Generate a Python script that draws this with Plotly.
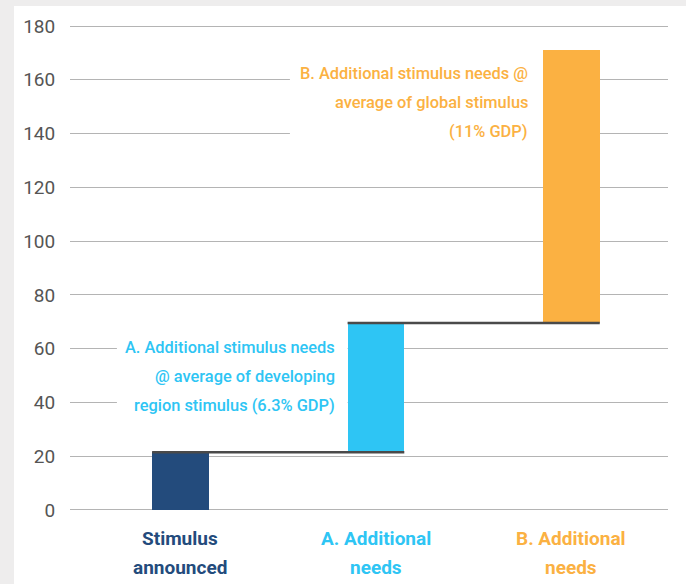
import plotly.graph_objects as go

# ---- data ----
categories = ["Stimulus announced", "A. Additional needs", "B. Additional needs"]
category_lines = [["Stimulus", "announced"], ["A. Additional", "needs"], ["B. Additional", "needs"]]
increments = [21.5, 48.0, 101.5]
bar_colors = ["#234b7c", "#2ec5f4", "#fbb142"]
y_ticks = [0, 20, 40, 60, 80, 100, 120, 140, 160, 180]
note_a_lines = ["A. Additional stimulus needs", "@ average of developing", "region stimulus (6.3% GDP)"]
note_b_lines = ["B. Additional stimulus needs @", "average of global stimulus", "(11% GDP)"]

# ---- derived ----
bases = []
tops = []
run = 0.0
for v in increments:
    bases.append(run)
    run += v
    tops.append(run)
xs = list(range(len(categories)))
BW = 0.29

W, H = 686, 584
ML, MR, MT, MB = 70, 18, 25, 73
pw, ph = W - ML - MR, H - MT - MB
YR = [-0.4, 180.4]
upp = (YR[1] - YR[0]) / ph  # units per pixel

FONT = "Roboto, Liberation Sans Narrow, DejaVu Sans Condensed, Arial"

fig = go.Figure()
fig.add_trace(go.Bar(
    x=xs, y=increments, base=bases, width=BW,
    marker=dict(color=bar_colors, line=dict(width=0)),
    hoverinfo="skip", showlegend=False,
))

shapes = []
# white panel over gray page
shapes.append(dict(type="rect", xref="paper", yref="paper", layer="below",
                   x0=(14 - ML) / pw, x1=(W - ML) / pw,
                   y0=-(MB) / ph, y1=(H - MB - 6) / ph,
                   fillcolor="white", line=dict(width=0)))
# white boxes behind notes (hide gridlines)
shapes.append(dict(type="rect", xref="x", yref="y", layer="between",
                   x0=-0.325, x1=1 - BW / 2, y0=30, y1=75,
                   fillcolor="white", line=dict(width=0)))
shapes.append(dict(type="rect", xref="x", yref="y", layer="between",
                   x0=0.56, x1=2 - BW / 2, y0=130, y1=172,
                   fillcolor="white", line=dict(width=0)))
# connectors
for i in range(len(xs) - 1):
    shapes.append(dict(type="line", xref="x", yref="y", layer="above",
                       x0=xs[i] - BW / 2, x1=xs[i + 1] + BW / 2,
                       y0=tops[i], y1=tops[i],
                       line=dict(color="#4a4a4a", width=2.5)))

annotations = []
LS = 29  # line spacing px
for j, line in enumerate(note_a_lines):
    annotations.append(dict(x=1 - BW / 2 - 0.055, y=49.8 + (1 - j) * LS * upp,
                            xref="x", yref="y", xanchor="right", yanchor="middle",
                            text=line, showarrow=False,
                            font=dict(family=FONT, size=16.4, color="#2ec5f4", weight=500)))
for j, line in enumerate(note_b_lines):
    annotations.append(dict(x=2 - BW / 2 - 0.065, y=151.7 + (1 - j) * LS * upp,
                            xref="x", yref="y", xanchor="right", yanchor="middle",
                            text=line, showarrow=False,
                            font=dict(family=FONT, size=16.4, color="#fbb142", weight=500)))
for i, lines in enumerate(category_lines):
    for j, line in enumerate(lines):
        annotations.append(dict(x=xs[i], y=0, xref="x", yref="paper",
                                xanchor="center", yanchor="middle",
                                yshift=-(27 + j * LS), text=line, showarrow=False,
                                font=dict(family=FONT, size=19, color=bar_colors[i],
                                          weight=700)))

fig.update_layout(
    width=W, height=H,
    margin=dict(l=ML, r=MR, t=MT, b=MB),
    paper_bgcolor="#eeeded", plot_bgcolor="white",
    shapes=shapes, annotations=annotations,
    bargap=0,
    xaxis=dict(range=[-0.565, 2.494], showticklabels=False,
               showgrid=False, zeroline=False, showline=False, ticks="",
               fixedrange=True),
    yaxis=dict(range=YR, tickvals=y_ticks, showgrid=True,
               gridcolor="#b4b4b4", gridwidth=1.3, zeroline=False, showline=False,
               ticks="outside", ticklen=10, tickcolor="rgba(0,0,0,0)",
               tickfont=dict(family=FONT, size=19, color="#555555"), fixedrange=True),
)

fig.write_html("out.html")
